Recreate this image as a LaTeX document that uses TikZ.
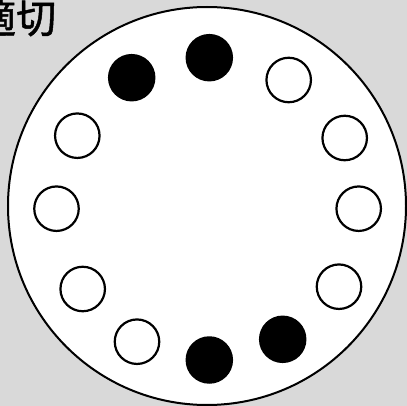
\documentclass[tikz,border=0pt]{standalone}
\usepackage{fontspec}
\newfontfamily\cjk[FakeBold=1.2]{Noto Sans CJK JP}
\definecolor{bggray}{HTML}{D9D9D9}
\tikzset{
  hole/.style={circle, draw=black, line width=2.2pt, fill=white, minimum size=44.5pt, inner sep=0pt},
  plug/.style={circle, fill=black, minimum size=47.5pt, inner sep=0pt},
  rim/.style={draw=black, line width=2pt, fill=white},
}
\begin{document}
\begin{tikzpicture}[x=1pt,y=-1pt]
\useasboundingbox (0,0) rectangle (407,406);
\fill[bggray] (0,0) rectangle (407,406);
\draw[rim] (207,206) circle (199);
\node[anchor=base west, inner sep=0pt, font=\cjk\fontsize{40}{44}\selectfont] (title) at (-24,33) {適切};
\node[plug] (p1) at (209.3,57.7) {};
\node[plug] (p2) at (131.7,77.7) {};
\node[hole] (h3) at (288.7,80) {};
\node[hole] (h4) at (77.3,135.7) {};
\node[hole] (h5) at (344.7,138) {};
\node[hole] (h6) at (56.5,208.7) {};
\node[hole] (h7) at (358.7,208.7) {};
\node[hole] (h8) at (82.7,289) {};
\node[hole] (h9) at (339,286.7) {};
\node[hole] (h10) at (137,341.7) {};
\node[plug] (p11) at (209.3,360) {};
\node[plug] (p12) at (282.7,339.3) {};
\end{tikzpicture}
\end{document}
